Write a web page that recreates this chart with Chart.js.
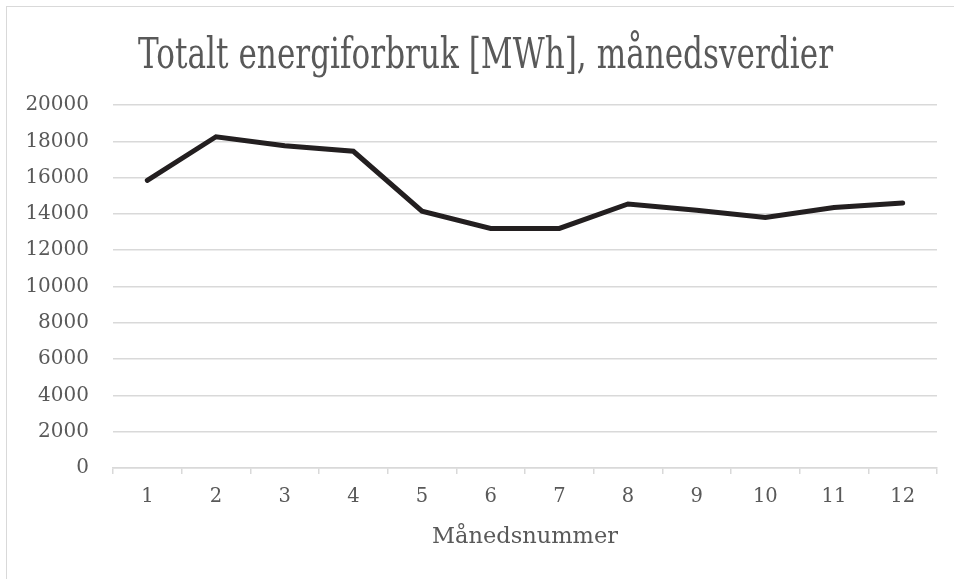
<!DOCTYPE html>
<html>
<head>
<meta charset="utf-8">
<script src="https://cdn.jsdelivr.net/npm/chart.js@4.4.1/dist/chart.umd.min.js"></script>
<style>
html,body{margin:0;padding:0;background:#fff;overflow:hidden;width:954px;height:579px;}
#frame{position:absolute;left:6px;top:6px;width:1200px;height:1200px;border-left:1.5px solid #d9d9d9;border-top:1.5px solid #d9d9d9;box-sizing:border-box;}
#wrap{position:absolute;left:0;top:0;width:954px;height:579px;}
</style>
</head>
<body>
<div id="frame"></div>
<div id="wrap"><canvas id="c"></canvas></div>
<script>
// ---- data ----
const titleText = 'Totalt energiforbruk [MWh], månedsverdier';
const xAxisTitle = 'Månedsnummer';
const months = ['1','2','3','4','5','6','7','8','9','10','11','12'];
const energyMWh = [15850, 18250, 17750, 17450, 14150, 13200, 13200, 14550, 14200, 13800, 14350, 14600];
const yMin = 0;
const yMax = 20000;
const yStep = 2000;

const textColor = '#595959';
const gridColor = '#d9d9d9';

// Title drawn condensed to match the reference's narrow serif face
const condensedTitle = {
  id: 'condensedTitle',
  afterDraw(chart) {
    const ctx = chart.ctx;
    ctx.save();
    ctx.font = '42px "DejaVu Serif"';
    ctx.fillStyle = textColor;
    ctx.textAlign = 'center';
    ctx.textBaseline = 'alphabetic';
    const w = ctx.measureText(titleText).width;
    const targetW = 695;
    ctx.translate(485.5, 68);
    ctx.scale(targetW / w, 1);
    ctx.fillText(titleText, 0, 0);
    ctx.restore();
  }
};

new Chart(document.getElementById('c'), {
  type: 'line',
  data: {
    labels: months,
    datasets: [{
      data: energyMWh,
      borderColor: '#231f20',
      backgroundColor: '#231f20',
      borderWidth: 5,
      pointRadius: 0,
      pointHoverRadius: 0,
      tension: 0,
      borderCapStyle: 'round',
      borderJoinStyle: 'miter',
      fill: false
    }]
  },
  options: {
    responsive: true,
    maintainAspectRatio: false,
    devicePixelRatio: 1,
    animation: false,
    events: [],
    layout: { padding: { top: 105, right: 17, bottom: 0, left: 0 } },
    plugins: {
      legend: { display: false },
      title: { display: false },
      tooltip: { enabled: false }
    },
    scales: {
      x: {
        offset: true,
        grid: {
          offset: true,
          drawOnChartArea: false,
          drawTicks: true,
          tickLength: 6,
          color: gridColor,
          lineWidth: 1.5
        },
        border: { display: true, color: gridColor, width: 1.5 },
        ticks: {
          padding: 11,
          color: textColor,
          font: { family: '"DejaVu Serif"', size: 19.5 },
          maxRotation: 0,
          autoSkip: false
        },
        title: {
          display: true,
          text: xAxisTitle,
          color: textColor,
          font: { family: '"DejaVu Serif"', size: 22.5 },
          padding: { top: 0, bottom: 28.8 }
        },
        afterFit(scale) { scale.height = 111; }
      },
      y: {
        min: yMin,
        max: yMax,
        grid: {
          drawTicks: false,
          color: gridColor,
          lineWidth: 1.5
        },
        border: { display: false },
        ticks: {
          stepSize: yStep,
          padding: 24,
          color: textColor,
          font: { family: '"DejaVu Serif"', size: 20 },
          callback: (v) => String(v)
        },
        afterFit(scale) { scale.width = 113; }
      }
    }
  },
  plugins: [condensedTitle]
});
</script>
</body>
</html>
